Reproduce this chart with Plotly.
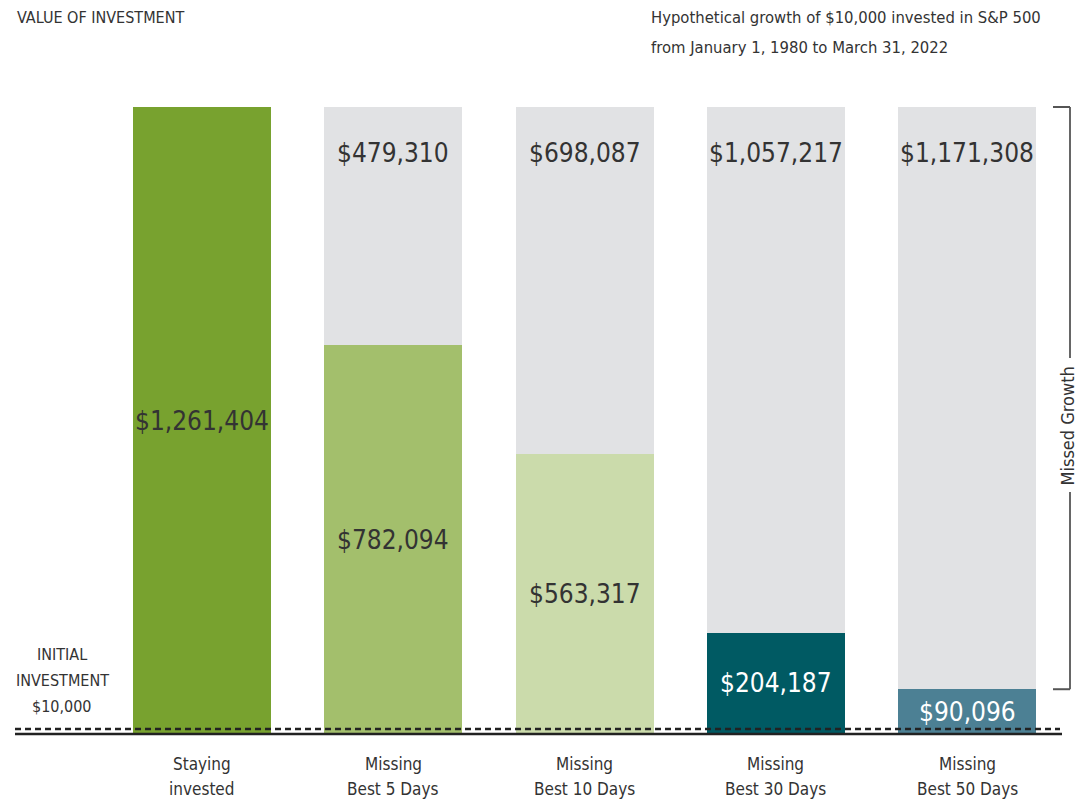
import plotly.graph_objects as go

categories = ["Staying<br>invested", "Missing<br>Best 5 Days", "Missing<br>Best 10 Days",
              "Missing<br>Best 30 Days", "Missing<br>Best 50 Days"]
invested_values = [1261404, 782094, 563317, 204187, 90096]
missed_values = [0, 479310, 698087, 1057217, 1171308]
invested_labels = ["$1,261,404", "$782,094", "$563,317", "$204,187", "$90,096"]
missed_labels = ["", "$479,310", "$698,087", "$1,057,217", "$1,171,308"]
initial_investment = 10000

bar_colors = ["#78a22f", "#a3bf6c", "#cbdbab", "#005a63", "#4c8094"]
label_colors = ["#333333", "#333333", "#333333", "#ffffff", "#ffffff"]
gray = "#e1e2e4"
FONT = "Liberation Sans Narrow, DejaVu Sans Condensed, Arial Narrow, sans-serif"
TXT = "#333333"

W, H = 1078, 804
x0_px, step_px = 202, 191.25
base_px, top_px = 734, 107
total = invested_values[0]
scale = total / (base_px - top_px)


def py(px):
    """pixel row -> paper y"""
    return 1 - px / H


def dy(px):
    """pixel row -> data y"""
    return (base_px - px) * scale


xs = list(range(len(categories)))

fig = go.Figure()
fig.add_trace(go.Bar(x=xs, y=invested_values, marker=dict(color=bar_colors, line=dict(width=0)),
                     width=0.7216, hoverinfo="skip"))
fig.add_trace(go.Bar(x=xs, y=missed_values, marker=dict(color=gray, line=dict(width=0)),
                     width=0.7216, hoverinfo="skip"))

ann = []
for i in xs:
    ann.append(dict(x=i, y=invested_values[i] / 2, text=invested_labels[i], showarrow=False,
                    font=dict(family=FONT, size=26, color=label_colors[i]), xref="x", yref="y"))
    if missed_labels[i]:
        ann.append(dict(x=i, y=invested_values[i] + missed_values[i], yshift=-46,
                        text=missed_labels[i], showarrow=False,
                        font=dict(family=FONT, size=26, color=TXT), xref="x", yref="y"))
    for j, line in enumerate(categories[i].split("<br>")):
        ann.append(dict(x=i, y=py(764 + 25 * j), text=line, showarrow=False,
                        font=dict(family=FONT, size=17, color=TXT), xref="x", yref="paper",
                        yanchor="middle"))

ann.append(dict(x=15 / W, y=py(17), xref="paper", yref="paper", xanchor="left",
                yanchor="middle", text="VALUE OF INVESTMENT", showarrow=False,
                font=dict(family=FONT, size=16, color=TXT)))
for j, line in enumerate(["Hypothetical growth of $10,000 invested in S&P 500",
                          "from January 1, 1980 to March 31, 2022"]):
    ann.append(dict(x=649 / W, y=py(18 + 29 * j), xref="paper", yref="paper", xanchor="left",
                    yanchor="middle", showarrow=False, text=line,
                    font=dict(family=FONT, size=16.5, color=TXT)))
for j, line in enumerate(["INITIAL", "INVESTMENT", "$10,000"]):
    ann.append(dict(x=62 / W, y=py(654 + 26 * j), xref="paper", yref="paper", xanchor="center",
                    yanchor="middle", showarrow=False, text=line,
                    font=dict(family=FONT, size=16, color=TXT)))
ann.append(dict(x=1, y=dy(426), xref="paper", yref="y", showarrow=False, xanchor="right",
                text="Missed Growth", textangle=-90, borderpad=0,
                font=dict(family=FONT, size=18, color=TXT)))

bx = 1070 / W
shapes = [
    dict(type="line", xref="paper", yref="y", x0=15 / W, x1=1062 / W, y0=0, y1=0,
         line=dict(color="#222222", width=2.5)),
    dict(type="line", xref="paper", yref="y", x0=15 / W, x1=1060 / W,
         y0=initial_investment, y1=initial_investment,
         line=dict(color="#222222", width=2.5, dash="6px,4px")),
    dict(type="line", xref="paper", yref="y", x0=bx, x1=bx,
         y0=dy(358), y1=total, line=dict(color="#666666", width=2)),
    dict(type="line", xref="paper", yref="y", x0=bx, x1=bx,
         y0=min(invested_values), y1=dy(492), line=dict(color="#666666", width=2)),
    dict(type="line", xref="paper", yref="y", x0=1053 / W, x1=bx,
         y0=total, y1=total, line=dict(color="#555555", width=2)),
    dict(type="line", xref="paper", yref="y", x0=1053 / W, x1=bx,
         y0=min(invested_values), y1=min(invested_values), line=dict(color="#555555", width=2)),
]

fig.update_layout(
    width=W, height=H, barmode="stack", showlegend=False,
    margin=dict(l=0, r=0, t=0, b=0), paper_bgcolor="white", plot_bgcolor="white",
    xaxis=dict(range=[-x0_px / step_px, (W - x0_px) / step_px], visible=False, fixedrange=True),
    yaxis=dict(range=[-(H - base_px) * scale, base_px * scale], visible=False, fixedrange=True),
    annotations=ann, shapes=shapes, bargap=0,
)

fig.write_html("out.html", post_script="document.body.style.margin='0';",
               config={"displayModeBar": False})
